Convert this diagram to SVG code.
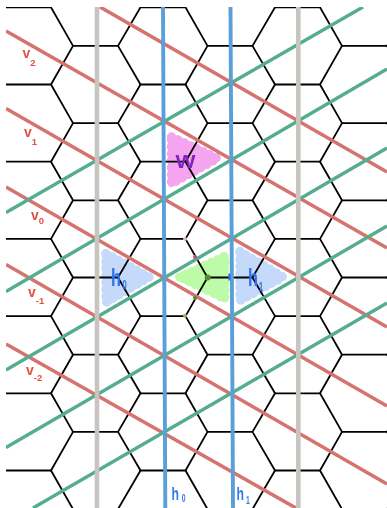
<svg xmlns="http://www.w3.org/2000/svg" width="387" height="508" viewBox="0 0 387 508">
<style>
.grid{fill:none;stroke:#000;stroke-width:1.8;stroke-linecap:round;stroke-linejoin:round}
.r{stroke:#d5736f;stroke-width:3.6;fill:none}
.g{stroke:#55ad90;stroke-width:3.4;fill:none}
.k{stroke:#c8c5c0;stroke-width:4.6;fill:none}
.b{stroke:#5b9fd9;stroke-width:3.9;fill:none}
.blob{mix-blend-mode:multiply}
.blob polygon{stroke-linecap:round;stroke-linejoin:round}
.blob .f{stroke-width:7}
.blob .d{fill:none;stroke-width:9.5;stroke-dasharray:0 7}
text{font-family:"Liberation Sans",Arial,sans-serif;font-weight:700}
.vl{fill:#e2513f;font-size:14px}
.vs{fill:#e2513f;font-size:9.5px}
.hl{fill:#3578f0;font-size:18px}
.hb{fill:#2f72f0;font-size:24px}
.hs{font-size:10px}
.hc{font-size:12px}
</style>
<defs>
<clipPath id="page"><rect x="6" y="7" width="381" height="501"/></clipPath>
<path id="tile" d="M6 7.3H51L73 45.9H118L140.5 7.3M51 84.5L73 45.9M118 45.9L140.5 84.5"/>
</defs>
<g id="lattice" class="grid" clip-path="url(#page)">
<use href="#tile"/><use href="#tile" x="134.5"/><use href="#tile" x="269"/>
<use href="#tile" y="77.2"/><use href="#tile" x="134.5" y="77.2"/><use href="#tile" x="269" y="77.2"/>
<use href="#tile" y="154.4"/><use href="#tile" x="134.5" y="154.4"/><use href="#tile" x="269" y="154.4"/>
<use href="#tile" y="231.6"/><use href="#tile" x="134.5" y="231.6"/><use href="#tile" x="269" y="231.6"/>
<use href="#tile" y="308.8"/><use href="#tile" x="134.5" y="308.8"/><use href="#tile" x="269" y="308.8"/>
<use href="#tile" y="386"/><use href="#tile" x="134.5" y="386"/><use href="#tile" x="269" y="386"/>
<use href="#tile" y="463.2"/><use href="#tile" x="134.5" y="463.2"/><use href="#tile" x="269" y="463.2"/>
</g>
<g id="connectors" clip-path="url(#page)">
<g id="red-lines" class="r">
<path d="M100 7L387 172"/><path d="M6 31L387 248"/><path d="M6 108.5L387 327"/><path d="M6 187L387 406"/><path d="M6 264.5L387 484"/><path d="M6 344L296 508"/>
</g>
<g id="green-lines" class="g">
<path d="M363 7L6 212.5"/><path d="M387 69L6 291.5"/><path d="M387 148L6 370"/><path d="M387 226L6 447.5"/><path d="M387 303L33 508"/>
</g>
<g id="grey-lines" class="k"><path d="M97 7V508"/><path d="M298.3 7V508"/></g>
<g id="blue-lines" class="b"><path d="M163 7L165.3 508"/><path d="M230.5 7L233 508"/></g>
</g>
<g id="cell-w">
<g class="blob" fill="#f5a5f0" stroke="#f5a5f0">
<polygon class="f" points="171.5,137 217,158.5 171.5,183.5"/><polygon class="d" points="171.5,137 217.5,158.5 171.5,183.5"/>
</g>
<text x="175.5" y="168" fill="#7f25bd" font-size="18" textLength="20" lengthAdjust="spacingAndGlyphs">W</text>
</g>
<g id="cell-h0">
<g class="blob" fill="#c5d9fa" stroke="#c5d9fa">
<polygon class="f" points="106,253.5 149,277 106,302.5"/><polygon class="d" points="106,253.5 149,277 106,302.5"/>
</g>
<text transform="translate(111 286) scale(.68 1)" class="hb">h<tspan class="hc" dx="2" dy="3">0</tspan></text>
</g>
<g id="cell-h1">
<g class="blob" fill="#c5d9fa" stroke="#c5d9fa">
<polygon class="f" points="240,251.5 283,277 240,300.5"/><polygon class="d" points="240,251.5 283,277 240,300.5"/>
</g>
<text transform="translate(248 286) scale(.68 1)" class="hb">h<tspan class="hc" dx="1" dy="5">1</tspan></text>
</g>
<g id="cell-origin">
<g style="mix-blend-mode:multiply" fill="#bdfba8" stroke="#bdfba8">
<polygon points="179.5,277 225,256 225,299" stroke-width="7" stroke-linejoin="round"/>
<polygon points="179.5,277 225,256 225,299" fill="none" stroke-width="9" stroke-dasharray="0 7" stroke-linecap="round"/>
</g>
<circle cx="207.7" cy="277.4" r="3" fill="#4c8f2c"/>
<circle cx="195" cy="298" r="2" fill="#4c8f2c"/>
<circle cx="185" cy="315.8" r="2" fill="#8cb878"/>
<circle cx="195" cy="257" r="2" fill="#c2507a"/>
<circle cx="185" cy="239" r="2" fill="#e6b8d0"/>
<rect x="228.4" y="273.5" width="2" height="7" fill="#2a6bea"/>
</g>
<g id="labels">
<text x="22.5" y="58" class="vl">v<tspan class="vs" dy="8">2</tspan></text>
<text x="24" y="137" class="vl">v<tspan class="vs" dy="8">1</tspan></text>
<text x="31" y="220" class="vl">v<tspan class="vs" dy="4">0</tspan></text>
<text x="28" y="297" class="vl">v<tspan class="vs" dy="7">-1</tspan></text>
<text x="26" y="375" class="vl">v<tspan class="vs" dy="6">-2</tspan></text>
<text transform="translate(171.5 500) scale(.68 1)" class="hl">h<tspan class="hs" dx="4" dy="2">0</tspan></text>
<text transform="translate(236.5 500) scale(.68 1)" class="hl">h<tspan class="hs" dx="3" dy="4">1</tspan></text>
</g>
</svg>
